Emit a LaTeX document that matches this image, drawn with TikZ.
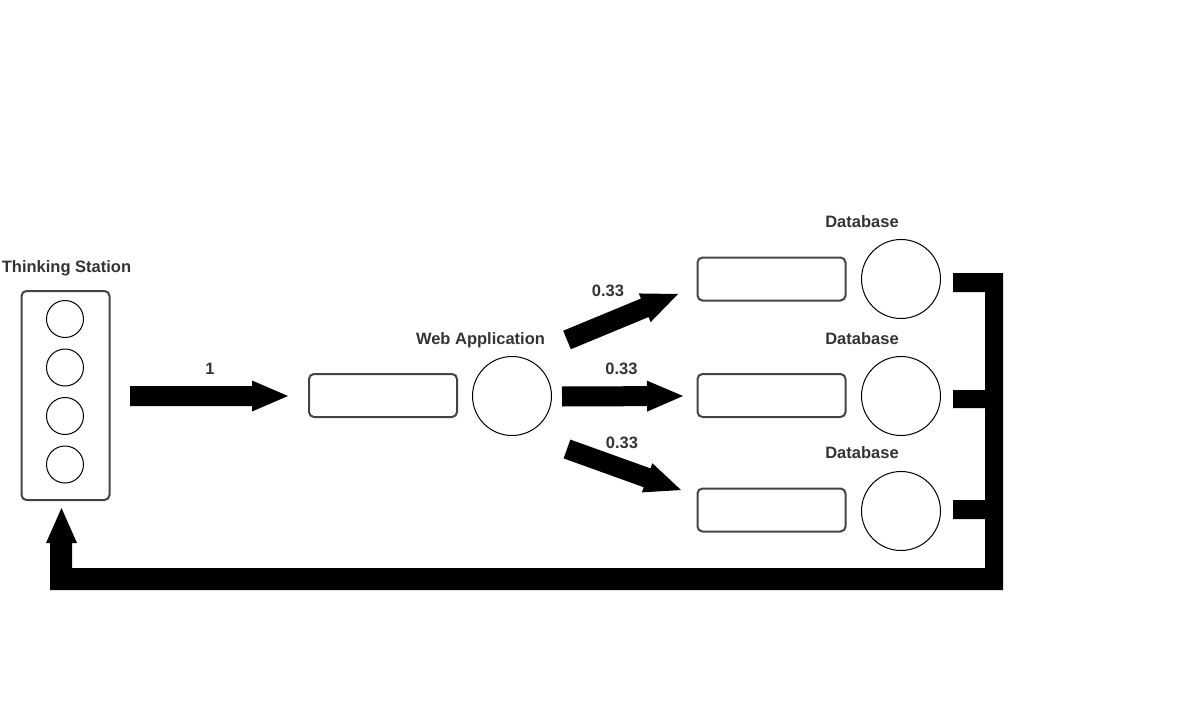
\documentclass[tikz,border=0pt]{standalone}
\usepackage{fontspec}
\setmainfont{Liberation Sans}
\usetikzlibrary{calc}
\definecolor{txt}{HTML}{333333}
\definecolor{boxc}{HTML}{444444}
\newcommand\fatarrow[2]{%
  \coordinate (#1hb) at ($(#2)!36pt!(#1)$);
  \fill[black] ($(#1)!10pt!90:(#2)$) -- ($(#1hb)!10pt!-90:(#1)$) -- ($(#1hb)!15.5pt!-90:(#1)$)
    -- (#2) -- ($(#1hb)!15.5pt!90:(#1)$) -- ($(#1hb)!10pt!90:(#1)$) -- ($(#1)!10pt!-90:(#2)$) -- cycle;}
\begin{document}
\begin{tikzpicture}[x=1pt,y=-1pt,
  lbl/.style={text=txt,font=\bfseries\fontsize{16.5}{19}\selectfont,anchor=base,inner sep=0pt},
  server/.style={draw=boxc,line width=2pt,rounded corners=5pt,minimum width=148pt,minimum height=43pt,inner sep=0pt},
  srv/.style={draw=black,line width=1pt,circle,minimum size=79pt,inner sep=0pt},
  thk/.style={draw=black,line width=1pt,circle,minimum size=37pt,inner sep=0pt}]
\useasboundingbox (0,0) rectangle (1196,706);
% Thinking station
\node[draw=boxc,line width=2pt,rounded corners=5pt,minimum width=88pt,minimum height=209pt,inner sep=0pt] (ts) at (65.5,395.5) {};
\node[thk] (t1) at (65,319) {};
\node[thk] (t2) at (65,367.5) {};
\node[thk] (t3) at (65,416) {};
\node[thk] (t4) at (65,464.5) {};
\node[lbl] (tsl) at (66.5,272) {Thinking Station};
% Web application
\node[server] (wq) at (383,395.5) {};
\node[srv] (wc) at (512,396) {};
\node[lbl] (wl) at (480.5,344) {Web Application};
% Databases
\node[server] (d1q) at (771.5,279) {};
\node[srv] (d1c) at (901,279) {};
\node[lbl] (d1l) at (862,227) {Database};
\node[server] (d2q) at (771.5,395.5) {};
\node[srv] (d2c) at (901,396) {};
\node[lbl] (d2l) at (862,344) {Database};
\node[server] (d3q) at (771.5,510) {};
\node[srv] (d3c) at (901,511) {};
\node[lbl] (d3l) at (862,458) {Database};
% Arrows
\coordinate (a0s) at (130,396); \coordinate (a0e) at (288,396);
\coordinate (a1s) at (567,340); \coordinate (a1e) at (678,294);
\coordinate (a2s) at (562,396.5); \coordinate (a2e) at (683,396);
\coordinate (a3s) at (567,449); \coordinate (a3e) at (681,490);
\fatarrow{a0s}{a0e}
\fatarrow{a1s}{a1e}
\fatarrow{a2s}{a2e}
\fatarrow{a3s}{a3e}
\node[lbl] (l0) at (210,374) {1};
\node[lbl] (l1) at (608,296) {0.33};
\node[lbl] (l2) at (621.5,374) {0.33};
\node[lbl] (l3) at (622,448) {0.33};
% Feedback
\coordinate (fbtip) at (61.5,508);
\fill[black] (953,273) -- (1003,273) -- (1003,590) -- (50,590) -- (50,543) -- (46,543) -- (fbtip)
  -- (77,543) -- (72,543) -- (72,568) -- (985,568) -- (985,519) -- (953,519) -- (953,500)
  -- (985,500) -- (985,408) -- (953,408) -- (953,390) -- (985,390) -- (985,292) -- (953,292) -- cycle;
\end{tikzpicture}
\end{document}
